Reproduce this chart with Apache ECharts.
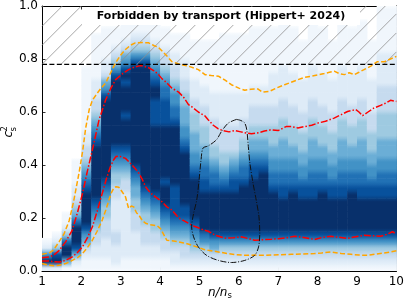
<!DOCTYPE html>
<html><head><meta charset="utf-8">
<script src="https://cdn.jsdelivr.net/npm/echarts/dist/echarts.min.js"></script>
<style>html,body{margin:0;padding:0;background:#fff}#c{width:407px;height:302px}</style>
</head><body><div id="c"></div><script>
// ---- data ----
const xTicks = [1,2,3,4,5,6,7,8,9,10];
const yTicks = [0,0.2,0.4,0.6,0.8,1.0];
const transportLimit = 0.78;
const densityXStart = 1, densityXStep = 0.25, densityYStep = 0.025;
// density level (0-9) per column (x bins of 0.25 from 1 to 10), rows from y=0 upward in 0.025 steps
const densityColumns = [
 "29621",
 "298421",
 "159974211",
 "12589997543221111",
 "1123568999998765433221111111111",
 "112233456789999999987654332221111111",
 "1122233344567899999999999986532211111",
 "1222332222233445678999999999986432111",
 "11222222222233456789999899998986532111",
 "11222233344556789999999999999998643211",
 "11223334456789999999999999999998643211",
 "11223344567899999999998888998765432111",
 "1123345678999899999999888877654332111",
 "122345678888899999999987766543322111",
 "123345678899999999876655544332221111",
 "12345678999999876655544433222111111",
 "12346799999988776554443332221111111",
 "12356899999987765443333222211111111",
 "123468999999876544333322222111111111",
 "123468999999887654333322222111111111",
 "123468999999987765443332222111111111",
 "1234689999999988765544333222111111111",
 "1234689999999998765544333222111111111",
 "1234689999998776655444333222221111111",
 "12346899999887766555444333222221111111",
 "1234689999998776655444333222221111111",
 "12346899999887665544433322222111111",
 "12346899999887766555444333222221111111",
 "1234689999998776655444333222221111111",
 "12346899999887665544433322222111111",
 "12346899999887766555444333222221111111",
 "1234689999998776655444333222221111111",
 "12346899999887766555444333222221111111",
 "12346899999887665544433322222111111",
 "1234689999988776655544443333222221111111",
 "1234689999988776655544443333222221111111"
];
const outerUpper = [[1.0,0.063],[1.18,0.068],[1.3,0.08],[1.44,0.112],[1.56,0.14],[1.69,0.19],[1.8,0.26],[1.94,0.37],[2.03,0.45],[2.11,0.54],[2.2,0.61],[2.28,0.645],[2.4,0.67],[2.5,0.69],[2.62,0.71],[2.75,0.75],[2.87,0.786],[3.0,0.815],[3.12,0.836],[3.25,0.852],[3.37,0.861],[3.55,0.862],[3.71,0.861],[3.85,0.85],[3.95,0.845],[4.05,0.83],[4.18,0.81],[4.3,0.79],[4.5,0.78],[4.72,0.773],[4.97,0.76],[5.14,0.741],[5.3,0.738],[5.48,0.735],[5.65,0.72],[5.81,0.703],[6.0,0.69],[6.15,0.682],[6.3,0.686],[6.48,0.687],[6.6,0.675],[6.78,0.678],[6.95,0.69],[7.16,0.703],[7.33,0.712],[7.5,0.722],[7.65,0.73],[7.83,0.735],[8.0,0.74],[8.17,0.745],[8.3,0.75],[8.42,0.754],[8.55,0.745],[8.68,0.741],[8.8,0.748],[8.93,0.741],[9.05,0.75],[9.18,0.76],[9.35,0.773],[9.52,0.79],[9.7,0.79],[9.85,0.8],[10,0.81]];
const innerUpper = [[1.0,0.05],[1.18,0.053],[1.3,0.06],[1.44,0.078],[1.6,0.11],[1.77,0.154],[1.9,0.22],[2.03,0.293],[2.15,0.375],[2.28,0.457],[2.45,0.571],[2.62,0.647],[2.75,0.69],[2.87,0.722],[3.05,0.745],[3.2,0.76],[3.35,0.77],[3.5,0.775],[3.6,0.772],[3.71,0.767],[3.85,0.755],[3.96,0.741],[4.05,0.725],[4.17,0.71],[4.3,0.69],[4.47,0.675],[4.6,0.655],[4.72,0.628],[4.8,0.62],[4.97,0.6],[5.14,0.585],[5.22,0.571],[5.35,0.55],[5.48,0.536],[5.6,0.53],[5.75,0.525],[5.89,0.53],[6.05,0.525],[6.2,0.52],[6.32,0.518],[6.5,0.522],[6.65,0.528],[6.82,0.533],[7.0,0.53],[7.2,0.545],[7.33,0.545],[7.5,0.54],[7.67,0.545],[7.85,0.55],[8.0,0.558],[8.2,0.565],[8.42,0.577],[8.6,0.59],[8.76,0.602],[8.97,0.609],[9.05,0.6],[9.14,0.586],[9.28,0.6],[9.43,0.615],[9.6,0.625],[9.75,0.635],[9.85,0.644],[10,0.64]];
const innerLower = [[1.0,0.038],[1.18,0.038],[1.3,0.035],[1.44,0.034],[1.6,0.04],[1.77,0.053],[1.9,0.07],[2.03,0.091],[2.15,0.125],[2.28,0.167],[2.4,0.225],[2.53,0.293],[2.64,0.35],[2.74,0.394],[2.82,0.42],[2.88,0.432],[2.95,0.434],[3.03,0.43],[3.12,0.425],[3.24,0.407],[3.35,0.39],[3.46,0.369],[3.55,0.345],[3.63,0.318],[3.75,0.295],[3.88,0.28],[4.05,0.261],[4.17,0.242],[4.3,0.23],[4.47,0.2],[4.6,0.19],[4.72,0.18],[4.85,0.17],[4.97,0.163],[5.1,0.155],[5.22,0.15],[5.4,0.135],[5.64,0.124],[5.85,0.125],[6.06,0.129],[6.25,0.122],[6.4,0.116],[6.6,0.118],[6.82,0.12],[7.0,0.122],[7.2,0.125],[7.41,0.131],[7.6,0.128],[7.75,0.124],[7.92,0.119],[8.1,0.126],[8.34,0.131],[8.55,0.127],[8.76,0.123],[9.0,0.13],[9.18,0.135],[9.4,0.133],[9.6,0.131],[9.75,0.138],[9.9,0.148],[10,0.14]];
const outerLower = [[1.0,0.028],[1.18,0.022],[1.3,0.02],[1.44,0.022],[1.6,0.028],[1.77,0.04],[1.9,0.05],[2.03,0.066],[2.15,0.088],[2.28,0.116],[2.4,0.15],[2.53,0.192],[2.62,0.23],[2.7,0.268],[2.76,0.295],[2.82,0.312],[2.88,0.318],[2.95,0.316],[3.03,0.3],[3.12,0.28],[3.2,0.236],[3.27,0.245],[3.33,0.242],[3.4,0.22],[3.46,0.211],[3.55,0.19],[3.63,0.18],[3.74,0.175],[3.84,0.173],[3.93,0.17],[4.01,0.16],[4.1,0.135],[4.17,0.116],[4.3,0.114],[4.47,0.11],[4.6,0.106],[4.75,0.1],[4.97,0.089],[5.1,0.082],[5.22,0.078],[5.35,0.075],[5.48,0.072],[5.7,0.066],[5.9,0.062],[6.15,0.059],[6.4,0.06],[6.66,0.059],[7.0,0.061],[7.33,0.063],[7.6,0.064],[7.92,0.066],[8.1,0.068],[8.34,0.072],[8.6,0.066],[8.85,0.063],[9.05,0.06],[9.27,0.059],[9.5,0.064],[9.69,0.068],[9.85,0.072],[10,0.076]];
const blackContour = [[5.94,0.572],[5.73,0.558],[5.56,0.527],[5.43,0.495],[5.22,0.472],[5.09,0.464],[5.04,0.42],[4.99,0.344],[4.93,0.268],[4.85,0.217],[4.8,0.167],[4.85,0.129],[4.97,0.091],[5.18,0.059],[5.48,0.04],[5.81,0.032],[6.15,0.04],[6.4,0.059],[6.5,0.091],[6.53,0.142],[6.51,0.205],[6.44,0.268],[6.36,0.331],[6.28,0.407],[6.24,0.47],[6.2,0.533],[6.15,0.558],[6.05,0.568],[5.94,0.572]];
const bannerText = "Forbidden by transport (Hippert+ 2024)";

// ---- build ----
const levelColors = ['#ffffff','#f0f6fc','#deebf7','#c6dbef','#9ecae1','#6baed6','#4292c6','#2171b5','#08519c','#08306b'];
const levelAt = (c, r) => {
  const s = densityColumns[c];
  if (r < 0 || r >= s.length) return 0;
  return +s[r];
};
const densityData = [];
densityColumns.forEach((s, c) => {
  for (let r = 0; r < s.length; r++) {
    const lvl = +s[r];
    if (lvl > 0) densityData.push([densityXStart + c * densityXStep, r * densityYStep, lvl, c, r]);
  }
});
const mix = (a, b) => echarts.color.lerp(0.5, [a, b]);

const FONT = 'DejaVu Sans';
const chart = echarts.init(document.getElementById('c'), null, {renderer: 'canvas'});
const axisCommon = {
  type: 'value', splitLine: {show: false},
  axisLine: {show: true, onZero: false, lineStyle: {color: '#000', width: 1}},
  axisTick: {show: true, inside: true, length: 3.5, lineStyle: {color: '#000', width: 0.8}}
};
const option = {
  animation: false,
  grid: {left: 42, right: 8, top: 6, bottom: 31},
  xAxis: [
    Object.assign({}, axisCommon, {min: 1, max: 10, interval: 1, position: 'bottom',
      axisLabel: {color: '#000', fontFamily: FONT, fontSize: 12, margin: 5}}),
    Object.assign({}, axisCommon, {min: 1, max: 10, interval: 1, position: 'top', axisLabel: {show: false}})
  ],
  yAxis: [
    Object.assign({}, axisCommon, {min: 0, max: 1, interval: 0.2, position: 'left',
      axisLabel: {color: '#000', fontFamily: FONT, fontSize: 12, margin: 4, formatter: v => v.toFixed(1)}}),
    Object.assign({}, axisCommon, {min: 0, max: 1, interval: 0.2, position: 'right', axisLabel: {show: false}})
  ],
  series: [
    {
      type: 'custom', z: 1, clip: true,
      data: densityData,
      encode: {x: 0, y: 1},
      renderItem: function (params, api) {
        const x0 = api.value(0), y0 = api.value(1), lvl = api.value(2), c = api.value(3), r = api.value(4);
        const p0 = api.coord([x0, y0]);
        const p1 = api.coord([x0 + densityXStep, y0 + densityYStep]);
        const mid = levelColors[lvl];
        const topC = mix(mid, levelColors[levelAt(c, r + 1)]);
        const botC = mix(mid, levelColors[levelAt(c, r - 1)]);
        return {type: 'rect', shape: {x: p0[0], y: p1[1], width: p1[0] - p0[0] + 0.6, height: p0[1] - p1[1] + 0.6},
          style: {fill: new echarts.graphic.LinearGradient(0, 0, 0, 1, [
            {offset: 0, color: topC}, {offset: 0.5, color: mid}, {offset: 1, color: botC}])}};
      }
    },
    {
      type: 'custom', z: 2, clip: false,
      data: [[1, transportLimit]],
      renderItem: function (params, api) {
        const tl = api.coord([1, 1.0]), br = api.coord([10, api.value(1)]);
        const left = tl[0], top = tl[1], right = br[0], bottom = br[1];
        const h = bottom - top, step = 19;
        const children = [];
        for (let c = left - Math.ceil(h / step) * step; c < right; c += step) {
          const t0 = Math.max(0, left - c), t1 = Math.min(h, right - c);
          if (t1 > t0) children.push({type: 'line', shape: {x1: c + t0, y1: bottom - t0, x2: c + t1, y2: bottom - t1},
            style: {stroke: '#8f8f8f', lineWidth: 0.8}});
        }
        return {type: 'group', children: children};
      }
    },
    {type: 'line', z: 3, data: outerUpper, showSymbol: false, lineStyle: {color: '#FFA500', width: 1.5, type: [5, 2.4]}},
    {type: 'line', z: 3, data: outerLower, showSymbol: false, lineStyle: {color: '#FFA500', width: 1.5, type: [5, 2.4]}},
    {type: 'line', z: 3, data: innerUpper, showSymbol: false, lineStyle: {color: '#FF0000', width: 1.5, type: [7, 2, 1.5, 2]}},
    {type: 'line', z: 3, data: innerLower, showSymbol: false, lineStyle: {color: '#FF0000', width: 1.5, type: [7, 2, 1.5, 2]}},
    {type: 'line', z: 3, data: blackContour, showSymbol: false, smooth: 0.3, lineStyle: {color: '#111', width: 1, type: [6, 1.6, 1, 1.6]}},
    {type: 'line', z: 4, data: [[1, transportLimit], [10, transportLimit]], showSymbol: false, lineStyle: {color: '#000', width: 1.3, type: [5, 2.4]}}
  ],
  graphic: [
    {type: 'rect', z: 100, shape: {x: 82, y: 7, width: 278, height: 18}, style: {fill: '#fff'}},
    {type: 'text', z: 101, x: 221, y: 16, style: {text: bannerText, fill: '#000', font: 'bold 11px "DejaVu Sans"', align: 'center', verticalAlign: 'middle'}},
    {type: 'text', z: 101, x: 208, y: 292.5, style: {text: 'n/n', fill: '#000', font: 'italic 12px "DejaVu Sans"', align: 'left', verticalAlign: 'middle'}},
    {type: 'text', z: 101, x: 227.5, y: 296, style: {text: 's', fill: '#000', font: '8.5px "DejaVu Sans"', align: 'left', verticalAlign: 'middle'}},
    {type: 'group', z: 101, x: 12.5, y: 137.5, rotation: Math.PI / 2, children: [
      {type: 'text', x: 0, y: -4, style: {text: 'c', fill: '#000', font: 'italic 12px "DejaVu Sans"', align: 'left', verticalAlign: 'middle'}},
      {type: 'text', x: 6, y: 1, style: {text: 's', fill: '#000', font: '8.5px "DejaVu Sans"', align: 'left', verticalAlign: 'middle'}},
      {type: 'text', x: 6, y: -7.5, style: {text: '2', fill: '#000', font: '8.5px "DejaVu Sans"', align: 'left', verticalAlign: 'middle'}}
    ]}
  ]
};
chart.setOption(option);
</script></body></html>
